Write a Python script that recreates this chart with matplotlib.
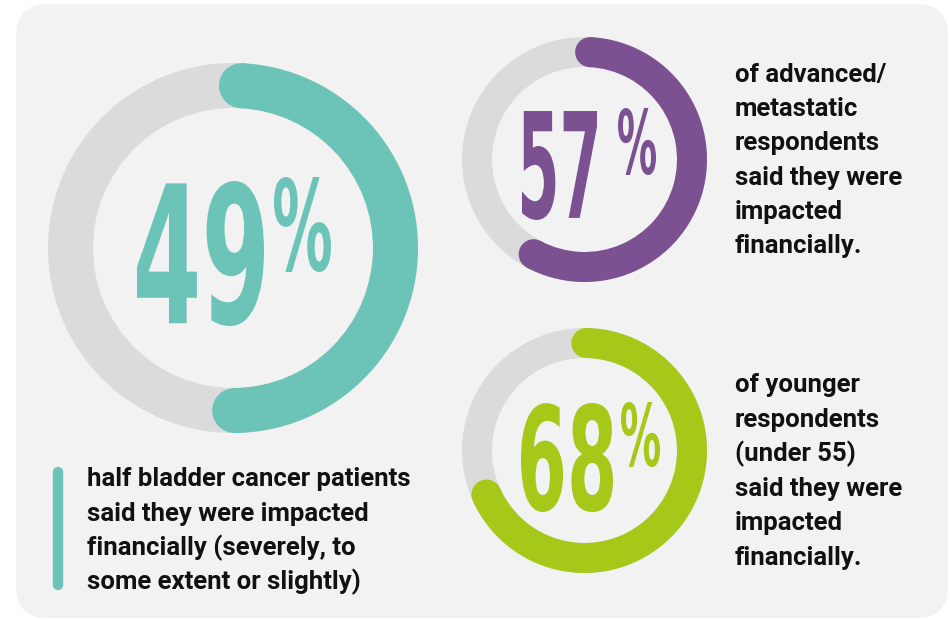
import matplotlib
matplotlib.use("Agg")
import matplotlib.pyplot as plt
from matplotlib.patches import Wedge, Circle, FancyBboxPatch
from matplotlib.patheffects import AbstractPathEffect
from matplotlib.transforms import Affine2D
import numpy as np

# ---- data -------------------------------------------------------------
shares = [0.49, 0.57, 0.68]
ring_colors = ["#6CC4B9", "#7B5192", "#A6C818"]
captions = [
    ["half bladder cancer patients",
     "said they were impacted",
     "financially (severely, to",
     "some extent or slightly)"],
    ["of advanced/",
     "metastatic",
     "respondents",
     "said they were",
     "impacted",
     "financially."],
    ["of younger",
     "respondents",
     "(under 55)",
     "said they were",
     "impacted",
     "financially."],
]

# ---- layout (pixel space, y grows downward) ---------------------------
W, H = 950, 620
centers = [(233, 248), (584.5, 159.5), (584.5, 450.5)]
outer_r = [185, 122.5, 122.5]
ring_w = [45, 30, 30]
start_deg = [3, 3, 1]          # clockwise from 12 o'clock
number_boxes = [(137, 181, 264, 326), (522, 111, 597, 220), (521, 403, 613, 512)]
pct_boxes = [(274, 177, 331, 272), (618, 108, 656, 175), (621, 402, 660, 467)]
caption_x = [87, 735, 735]
caption_y0 = [486, 82, 392]
caption_dy = [34.5, 34.2, 34.6]

TRACK = "#DBDBDB"
PANEL = "#F2F2F2"
INK = "#111111"
BIG_FONT = ["Liberation Sans Narrow", "DejaVu Sans"]
BODY_FONT = ["Roboto", "DejaVu Sans"]


class FitToBox(AbstractPathEffect):
    """Stretch a text path so that its ink fills a box given in data units."""

    def __init__(self, ax, box):
        super().__init__()
        self.ax = ax
        self.box = box

    def draw_path(self, renderer, gc, tpath, affine, rgbFace=None):
        ext = tpath.get_extents(affine)
        x0, y0, x1, y1 = self.box
        (dx0, dy0), (dx1, dy1) = self.ax.transData.transform([(x0, y1), (x1, y0)])
        sx = (dx1 - dx0) / ext.width
        sy = (dy1 - dy0) / ext.height
        fit = Affine2D().translate(-ext.x0, -ext.y0).scale(sx, sy).translate(dx0, dy0)
        renderer.draw_path(gc, tpath, affine + fit, rgbFace)


def box_text(ax, box, s, color, width_em):
    """Place text at the middle of a box, sized so its layout stays inside it."""
    x0, y0, x1, y1 = box
    size = (x1 - x0) / width_em * 0.72
    ax.text((x0 + x1) / 2, (y0 + y1) / 2, s, color=color, fontsize=size,
            fontweight="bold", family=BIG_FONT, ha="center", va="center",
            path_effects=[FitToBox(ax, box)])


fig = plt.figure(figsize=(W / 100, H / 100), dpi=100)
fig.patch.set_facecolor("white")
ax = fig.add_axes([0, 0, 1, 1])
ax.set_xlim(0, W)
ax.set_ylim(H, 0)
ax.set_aspect("equal")
ax.axis("off")

# background card
ax.add_patch(FancyBboxPatch((16 + 32, 4 + 32), 932 - 64, 614 - 64,
                            boxstyle="round,pad=32", fc=PANEL, ec="none"))

for i, share in enumerate(shares):
    cx, cy = centers[i]
    r, w = outer_r[i], ring_w[i]
    col = ring_colors[i]
    # grey track
    ax.add_patch(Wedge((cx, cy), r, 0, 360, width=w, fc=TRACK, ec="none"))
    # coloured arc: clockwise from the top (y axis is inverted)
    a0 = -90 + start_deg[i]
    a1 = a0 + share * 360
    ax.add_patch(Wedge((cx, cy), r, a0, a1, width=w, fc=col, ec="none"))
    rm = r - w / 2
    for a in (a0, a1):
        t = np.deg2rad(a)
        ax.add_patch(Circle((cx + rm * np.cos(t), cy + rm * np.sin(t)), w / 2,
                            fc=col, ec="none"))

    # big percentage figure
    box_text(ax, number_boxes[i], f"{round(share * 100)}", col, 1.3)
    box_text(ax, pct_boxes[i], "%", col, 1.2)

    # caption
    for j, line in enumerate(captions[i]):
        ax.text(caption_x[i], caption_y0[i] + j * caption_dy[i], line,
                color=INK, fontsize=18.5, fontweight="bold",
                family=BODY_FONT, ha="left", va="baseline")

# accent bar beside the first caption
ax.plot([58, 58], [472, 585], color=ring_colors[0], lw=7.5,
        solid_capstyle="round")

fig.savefig("out.png", dpi=100, facecolor="white")
